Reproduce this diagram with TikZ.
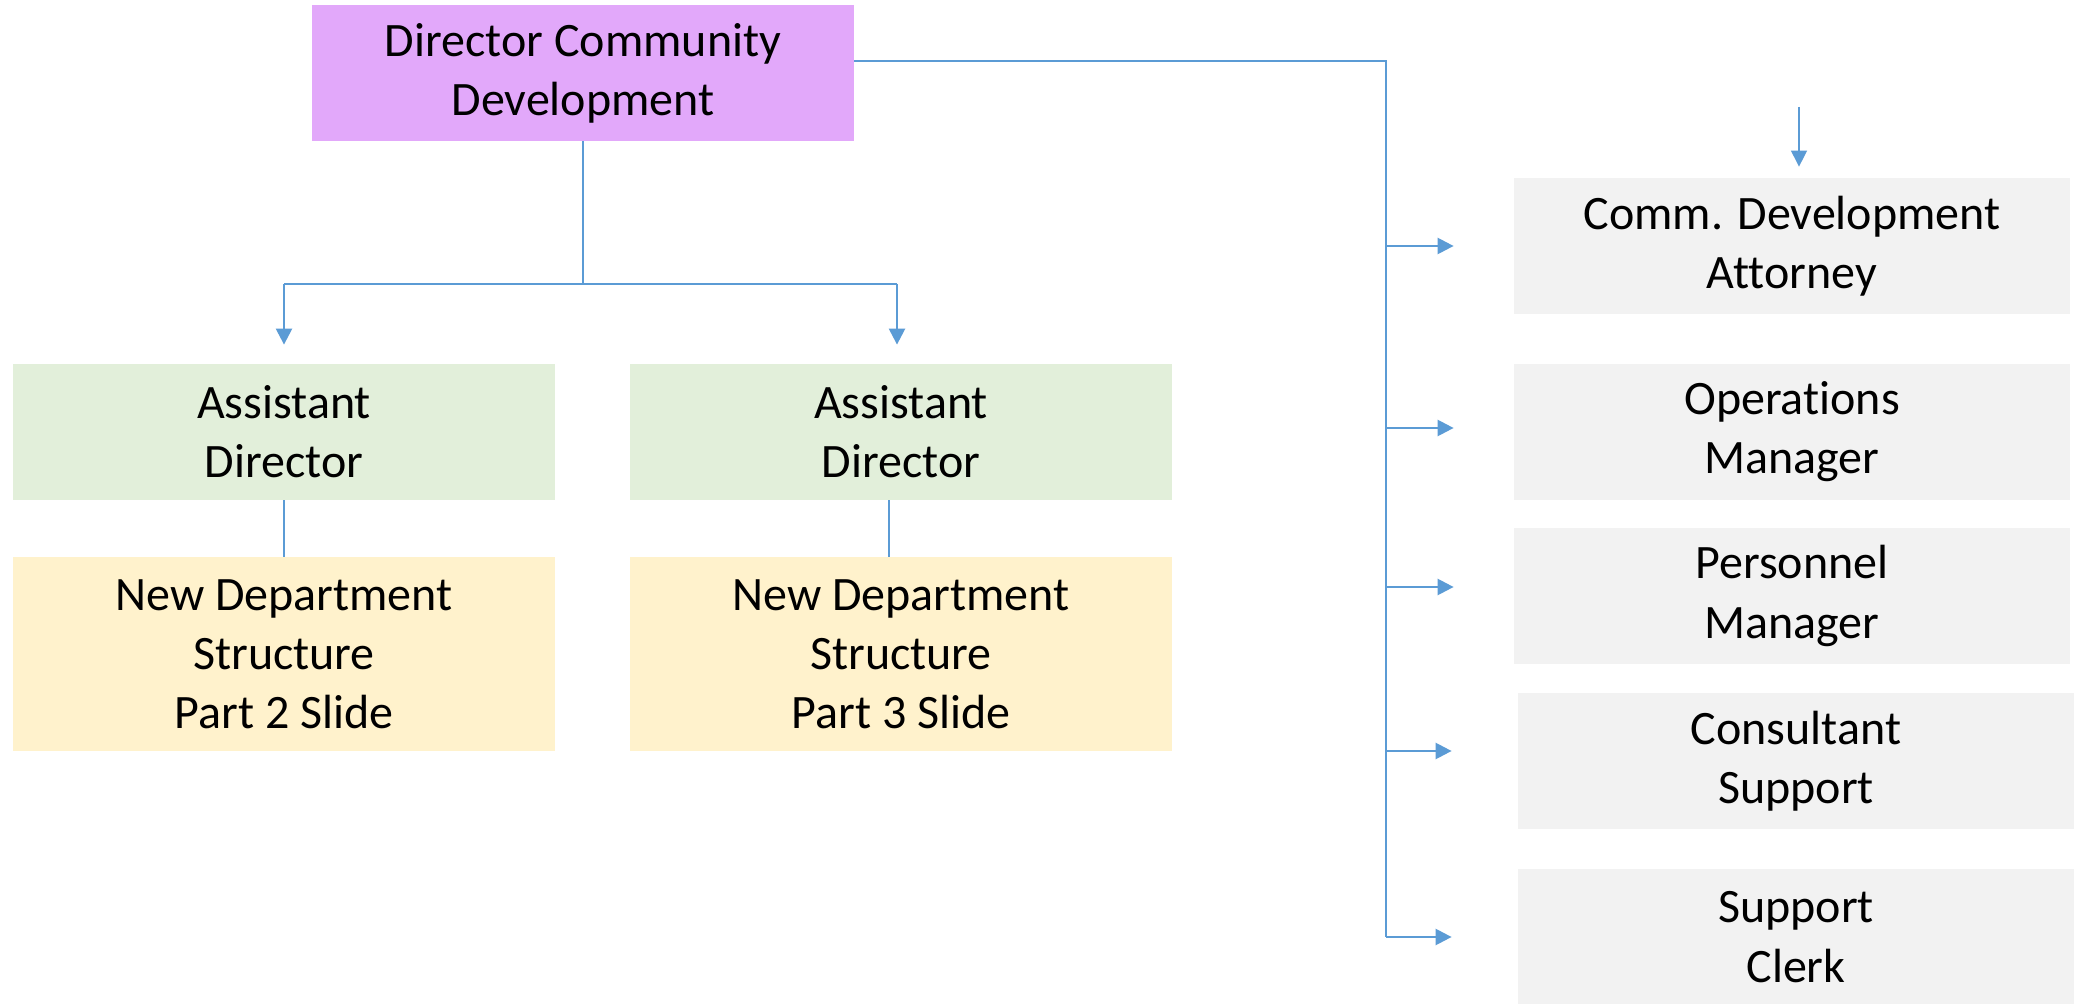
\documentclass[tikz,border=0pt]{standalone}
\usepackage{fontspec}
\setmainfont{Carlito}[Ligatures={NoCommon,NoRequired,NoContextual}]
\usetikzlibrary{arrows.meta}
\definecolor{lnblue}{HTML}{5B9BD5}
\definecolor{dirfill}{HTML}{E2A8FA}
\definecolor{adfill}{HTML}{E2EFDA}
\definecolor{ndfill}{HTML}{FFF2CC}
\definecolor{grfill}{HTML}{F2F2F2}
\tikzset{
  box/.style={inner sep=0pt, align=center, font=\fontsize{24}{29.6}\selectfont},
  dirbox/.style={box, fill=dirfill, minimum width=271pt, minimum height=68pt},
  adbox/.style={box, fill=adfill, minimum width=271pt, minimum height=68pt},
  ndbox/.style={box, fill=ndfill, minimum width=271pt, minimum height=97pt},
  grbox/.style={box, fill=grfill, minimum width=278pt, minimum height=68pt},
  conn/.style={draw=lnblue, line width=0.7pt},
  arr/.style={draw=lnblue, line width=1.2pt, -{Triangle[length=8pt,width=8pt]}},
}
\begin{document}
\begin{tikzpicture}[x=0.5pt,y=-0.5pt]
\useasboundingbox (0,0) rectangle (2080,1004);
\fill[white] (0,0) rectangle (2080,1004);
% nodes
\node[dirbox] (dir) at (583,73) {Director Community\\Development};
\node[adbox] (ad1) at (284,432) {Assistant\\Director};
\node[adbox] (ad2) at (901,432) {Assistant\\Director};
\node[ndbox] (nd1) at (284,654) {New Department\\Structure\\Part 2 Slide};
\node[ndbox] (nd2) at (901,654) {New Department\\Structure\\Part 3 Slide};
\node[grbox] (cda) at (1792,246) {Comm. Development\\Attorney};
\node[grbox] (ops) at (1792,432) {Operations\\Manager};
\node[grbox] (per) at (1792,596) {Personnel\\Manager};
\node[grbox] (con) at (1796,761) {Consultant\\Support};
\node[grbox] (clk) at (1796,937) {Support\\Clerk};
% left tree
\coordinate (j) at (583,284);
\coordinate (j1) at (284,284);
\coordinate (j2) at (897,284);
\draw[conn] (dir.south) -- (j);
\draw[conn] (j1) -- (j2);
\draw[arr, shorten >=9.5pt] (j1) -- (j1 |- ad1.north);
\draw[arr, shorten >=9.5pt] (j2) -- (j2 |- ad2.north);
\draw[conn] (ad1.south) -- (nd1.north);
\draw[conn] ([xshift=-6pt]ad2.south) -- ([xshift=-6pt]nd2.north);
% right trunk
\coordinate (t0) at (1386,61);
\coordinate (t1) at (1386,246);
\coordinate (t2) at (1386,428);
\coordinate (t3) at (1386,587);
\coordinate (t4) at (1386,751);
\coordinate (t5) at (1386,937);
\draw[conn] ([yshift=6pt]dir.east) -- (t0) -- (t5);
\draw[arr, shorten >=30pt] (t1) -- (t1 -| cda.west);
\draw[arr, shorten >=30pt] (t2) -- (t2 -| ops.west);
\draw[arr, shorten >=30pt] (t3) -- (t3 -| per.west);
\draw[arr, shorten >=33pt] (t4) -- (t4 -| con.west);
\draw[arr, shorten >=33pt] (t5) -- (t5 -| clk.west);
% small arrow above attorney
\coordinate (s) at (1799,107);
\draw[conn, -{Triangle[length=8pt,width=8pt]}, shorten >=5.5pt] (s) -- (s |- cda.north);
\end{tikzpicture}
\end{document}
